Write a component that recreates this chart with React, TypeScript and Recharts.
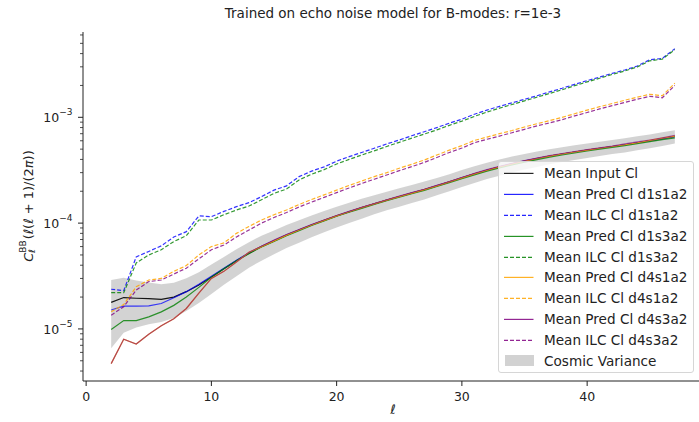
import { ComposedChart, Line, Area, XAxis, YAxis } from "recharts"

const ells = [2, 3, 4, 5, 6, 7, 8, 9, 10, 11, 12, 13, 14, 15, 16, 17, 18, 19, 20, 21, 22, 23, 24, 25, 26, 27, 28, 29, 30, 31, 32, 33, 34, 35, 36, 37, 38, 39, 40, 41, 42, 43, 44, 45, 46, 47]

const meanInput = [1.78e-5, 1.98e-5, 1.95e-5, 1.93e-5, 1.9e-5, 2.0e-5, 2.25e-5, 2.6e-5, 3.1e-5, 3.7e-5, 4.4e-5, 5.2e-5, 6.0e-5, 6.8e-5, 7.7e-5, 8.6e-5, 9.6e-5, 1.06e-4, 1.17e-4, 1.28e-4, 1.4e-4, 1.52e-4, 1.65e-4, 1.78e-4, 1.92e-4, 2.07e-4, 2.25e-4, 2.45e-4, 2.68e-4, 2.92e-4, 3.16e-4, 3.4e-4, 3.63e-4, 3.86e-4, 4.08e-4, 4.3e-4, 4.5e-4, 4.7e-4, 4.9e-4, 5.1e-4, 5.3e-4, 5.5e-4, 5.75e-4, 6.0e-4, 6.3e-4, 6.6e-4]

const predD1s1a2 = [1.51e-5, 1.64e-5, 1.64e-5, 1.65e-5, 1.74e-5, 1.97e-5, 2.25e-5, 2.65e-5, 3.15e-5, 3.75e-5, 4.45e-5, 5.25e-5, 6.05e-5, 6.85e-5, 7.75e-5, 8.65e-5, 9.65e-5, 1.065e-4, 1.175e-4, 1.285e-4, 1.405e-4, 1.525e-4, 1.655e-4, 1.785e-4, 1.93e-4, 2.08e-4, 2.26e-4, 2.46e-4, 2.69e-4, 2.93e-4, 3.17e-4, 3.41e-4, 3.64e-4, 3.87e-4, 4.09e-4, 4.3e-4, 4.5e-4, 4.7e-4, 4.9e-4, 5.1e-4, 5.3e-4, 5.5e-4, 5.75e-4, 6.0e-4, 6.3e-4, 6.55e-4]
const ilcD1s1a2 = [2.37e-5, 2.3e-5, 4.8e-5, 5.4e-5, 6.1e-5, 7.4e-5, 8.3e-5, 1.17e-4, 1.15e-4, 1.29e-4, 1.43e-4, 1.56e-4, 1.78e-4, 2.05e-4, 2.25e-4, 2.75e-4, 3.1e-4, 3.4e-4, 3.85e-4, 4.25e-4, 4.65e-4, 5.1e-4, 5.6e-4, 6.1e-4, 6.7e-4, 7.3e-4, 8.0e-4, 8.8e-4, 9.6e-4, 1.07e-3, 1.17e-3, 1.27e-3, 1.37e-3, 1.48e-3, 1.6e-3, 1.74e-3, 1.88e-3, 2.05e-3, 2.22e-3, 2.4e-3, 2.6e-3, 2.8e-3, 3.05e-3, 3.5e-3, 3.6e-3, 4.45e-3]

const predD1s3a2 = [9.9e-6, 1.2e-5, 1.2e-5, 1.3e-5, 1.45e-5, 1.67e-5, 2.0e-5, 2.47e-5, 3.08e-5, 3.7e-5, 4.4e-5, 5.15e-5, 5.95e-5, 6.7e-5, 7.6e-5, 8.5e-5, 9.5e-5, 1.05e-4, 1.16e-4, 1.27e-4, 1.38e-4, 1.5e-4, 1.63e-4, 1.76e-4, 1.9e-4, 2.04e-4, 2.22e-4, 2.41e-4, 2.63e-4, 2.86e-4, 3.1e-4, 3.33e-4, 3.55e-4, 3.77e-4, 3.98e-4, 4.2e-4, 4.4e-4, 4.6e-4, 4.8e-4, 5.0e-4, 5.2e-4, 5.4e-4, 5.65e-4, 5.9e-4, 6.15e-4, 6.4e-4]
const ilcD1s3a2 = [2.2e-5, 2.2e-5, 4.2e-5, 5.0e-5, 5.6e-5, 6.7e-5, 7.6e-5, 1.07e-4, 1.07e-4, 1.2e-4, 1.33e-4, 1.45e-4, 1.66e-4, 1.91e-4, 2.1e-4, 2.56e-4, 2.9e-4, 3.2e-4, 3.62e-4, 4.0e-4, 4.4e-4, 4.82e-4, 5.3e-4, 5.8e-4, 6.35e-4, 6.95e-4, 7.6e-4, 8.4e-4, 9.2e-4, 1.02e-3, 1.12e-3, 1.22e-3, 1.32e-3, 1.43e-3, 1.55e-3, 1.68e-3, 1.82e-3, 1.99e-3, 2.16e-3, 2.34e-3, 2.54e-3, 2.74e-3, 2.99e-3, 3.42e-3, 3.55e-3, 4.35e-3]

const predD4s1a2 = [4.7e-6, 8.0e-6, 7.2e-6, 8.9e-6, 1.07e-5, 1.25e-5, 1.56e-5, 2.18e-5, 3.0e-5, 3.5e-5, 4.3e-5, 5.3e-5, 6.0e-5, 6.8e-5, 7.7e-5, 8.6e-5, 9.6e-5, 1.06e-4, 1.17e-4, 1.28e-4, 1.4e-4, 1.52e-4, 1.65e-4, 1.78e-4, 1.92e-4, 2.07e-4, 2.25e-4, 2.45e-4, 2.68e-4, 2.92e-4, 3.16e-4, 3.4e-4, 3.63e-4, 3.86e-4, 4.08e-4, 4.3e-4, 4.5e-4, 4.7e-4, 4.9e-4, 5.1e-4, 5.3e-4, 5.5e-4, 5.75e-4, 6.05e-4, 6.35e-4, 6.65e-4]
const ilcD4s1a2 = [1.45e-5, 1.7e-5, 2.5e-5, 2.9e-5, 3.0e-5, 3.5e-5, 3.97e-5, 5.0e-5, 6.0e-5, 6.5e-5, 8.0e-5, 9.3e-5, 1.07e-4, 1.2e-4, 1.33e-4, 1.5e-4, 1.67e-4, 1.85e-4, 2.05e-4, 2.27e-4, 2.5e-4, 2.75e-4, 3.0e-4, 3.3e-4, 3.6e-4, 3.95e-4, 4.4e-4, 4.9e-4, 5.4e-4, 6.05e-4, 6.5e-4, 7.0e-4, 7.5e-4, 8.1e-4, 8.7e-4, 9.3e-4, 1.0e-3, 1.08e-3, 1.17e-3, 1.26e-3, 1.35e-3, 1.45e-3, 1.55e-3, 1.65e-3, 1.6e-3, 2.1e-3]

const predD4s3a2 = [4.7e-6, 8.0e-6, 7.2e-6, 8.9e-6, 1.07e-5, 1.25e-5, 1.56e-5, 2.18e-5, 3.0e-5, 3.5e-5, 4.3e-5, 5.3e-5, 6.05e-5, 6.9e-5, 7.8e-5, 8.7e-5, 9.7e-5, 1.07e-4, 1.18e-4, 1.29e-4, 1.41e-4, 1.53e-4, 1.66e-4, 1.8e-4, 1.94e-4, 2.09e-4, 2.27e-4, 2.47e-4, 2.7e-4, 2.95e-4, 3.2e-4, 3.44e-4, 3.67e-4, 3.9e-4, 4.12e-4, 4.35e-4, 4.55e-4, 4.75e-4, 4.95e-4, 5.15e-4, 5.35e-4, 5.6e-4, 5.85e-4, 6.1e-4, 6.4e-4, 6.75e-4]
const ilcD4s3a2 = [1.35e-5, 1.62e-5, 2.33e-5, 2.8e-5, 2.9e-5, 3.3e-5, 3.75e-5, 4.6e-5, 5.6e-5, 6.2e-5, 7.4e-5, 8.6e-5, 1.0e-4, 1.13e-4, 1.26e-4, 1.42e-4, 1.58e-4, 1.75e-4, 1.94e-4, 2.15e-4, 2.37e-4, 2.6e-4, 2.85e-4, 3.13e-4, 3.42e-4, 3.75e-4, 4.17e-4, 4.65e-4, 5.12e-4, 5.75e-4, 6.2e-4, 6.65e-4, 7.15e-4, 7.7e-4, 8.3e-4, 8.85e-4, 9.5e-4, 1.03e-3, 1.11e-3, 1.2e-3, 1.29e-3, 1.38e-3, 1.48e-3, 1.58e-3, 1.53e-3, 2.0e-3]

// cosmic variance band, lower and upper edge
const cvLow = [6.55e-6, 9.2e-6, 1.03e-5, 1.11e-5, 1.16e-5, 1.27e-5, 1.48e-5, 1.76e-5, 2.14e-5, 2.61e-5, 3.15e-5, 3.79e-5, 4.42e-5, 5.07e-5, 5.81e-5, 6.54e-5, 7.37e-5, 8.2e-5, 9.11e-5, 1.0e-4, 1.1e-4, 1.21e-4, 1.32e-4, 1.43e-4, 1.55e-4, 1.67e-4, 1.83e-4, 2.0e-4, 2.19e-4, 2.4e-4, 2.61e-4, 2.81e-4, 3.01e-4, 3.21e-4, 3.4e-4, 3.6e-4, 3.78e-4, 3.95e-4, 4.13e-4, 4.31e-4, 4.49e-4, 4.66e-4, 4.89e-4, 5.11e-4, 5.37e-4, 5.64e-4]
const cvHigh = [2.9e-5, 3.04e-5, 2.87e-5, 2.75e-5, 2.64e-5, 2.73e-5, 3.02e-5, 3.44e-5, 4.06e-5, 4.79e-5, 5.65e-5, 6.61e-5, 7.58e-5, 8.53e-5, 9.59e-5, 1.066e-4, 1.183e-4, 1.3e-4, 1.43e-4, 1.56e-4, 1.7e-4, 1.83e-4, 1.98e-4, 2.13e-4, 2.29e-4, 2.47e-4, 2.67e-4, 2.9e-4, 3.17e-4, 3.44e-4, 3.71e-4, 3.99e-4, 4.25e-4, 4.51e-4, 4.76e-4, 5.0e-4, 5.22e-4, 5.45e-4, 5.67e-4, 5.89e-4, 6.11e-4, 6.34e-4, 6.61e-4, 6.89e-4, 7.23e-4, 7.56e-4]

const xTicks = [0, 10, 20, 30, 40]
const decades = [1e-6, 1e-5, 1e-4, 1e-3]
const Y_MIN = 3.22e-6
const Y_MAX = 6.4e-3
const yTicks = decades
  .flatMap((d) => [1, 2, 3, 4, 5, 6, 7, 8, 9].map((m) => m * d))
  .filter((v) => v >= Y_MIN && v <= Y_MAX)

const FONT = "'DejaVu Sans', sans-serif"
const INK = "#222"

// opacity: the two d4 prediction curves sit on top of each other at low ell
// and blend into a brownish red there, as in the original
const series = [
  { key: "input", name: "Mean Input Cl", color: "#000000", dashed: false, opacity: 0.9 },
  { key: "predD1s1a2", name: "Mean Pred Cl d1s1a2", color: "#0000ff", dashed: false, opacity: 0.75 },
  { key: "ilcD1s1a2", name: "Mean ILC Cl d1s1a2", color: "#0000ff", dashed: true, opacity: 0.8 },
  { key: "predD1s3a2", name: "Mean Pred Cl d1s3a2", color: "#008000", dashed: false, opacity: 0.8 },
  { key: "ilcD1s3a2", name: "Mean ILC Cl d1s3a2", color: "#008000", dashed: true, opacity: 0.8 },
  { key: "predD4s1a2", name: "Mean Pred Cl d4s1a2", color: "#ffa500", dashed: false, opacity: 0.95 },
  { key: "ilcD4s1a2", name: "Mean ILC Cl d4s1a2", color: "#ffa500", dashed: true, opacity: 0.85 },
  { key: "predD4s3a2", name: "Mean Pred Cl d4s3a2", color: "#800080", dashed: false, opacity: 0.6 },
  { key: "ilcD4s3a2", name: "Mean ILC Cl d4s3a2", color: "#800080", dashed: true, opacity: 0.8 },
]

const data = ells.map((ell, i) => ({
  ell,
  input: meanInput[i],
  predD1s1a2: predD1s1a2[i],
  ilcD1s1a2: ilcD1s1a2[i],
  predD1s3a2: predD1s3a2[i],
  ilcD1s3a2: ilcD1s3a2[i],
  predD4s1a2: predD4s1a2[i],
  ilcD4s1a2: ilcD4s1a2[i],
  predD4s3a2: predD4s3a2[i],
  ilcD4s3a2: ilcD4s3a2[i],
  cv: [cvLow[i], cvHigh[i]],
}))

function YTick(props: any) {
  const { x, y, payload } = props
  const v = payload.value
  const exp = Math.round(Math.log10(v))
  const major = Math.abs(v / Math.pow(10, exp) - 1) < 1e-6
  return (
    <g>
      <line x1={x} x2={x - (major ? 5 : 3)} y1={y} y2={y} stroke={INK} strokeWidth={major ? 1 : 0.8} />
      {major && (
        <text x={x - 10.5} y={y + 5} textAnchor="end" fontSize={12.5} fontFamily={FONT} fill={INK}>
          10
          <tspan dy={-7} fontSize={9}>
            {"\u2212" + -exp}
          </tspan>
        </text>
      )}
    </g>
  )
}

function XTick(props: any) {
  const { x, y, payload } = props
  return (
    <g>
      <line x1={x} x2={x} y1={y} y2={y + 5} stroke={INK} strokeWidth={1} />
      <text x={x} y={y + 20} textAnchor="middle" fontSize={12.5} fontFamily={FONT} fill={INK}>
        {payload.value}
      </text>
    </g>
  )
}

function LegendBox() {
  const rowTop = 1.3
  const rowH = 20.8
  return (
    <div
      style={{
        position: "absolute",
        left: 498,
        top: 161,
        width: 196,
        height: 212,
        boxSizing: "border-box",
        border: "1px solid #d6d6d6",
        borderRadius: 3,
        background: "rgba(255,255,255,0.8)",
        fontFamily: FONT,
        fontSize: 13.6,
        color: INK,
      }}
    >
      {series.map((s, i) => (
        <div key={s.key} style={{ position: "absolute", left: 0, top: rowTop + i * rowH, height: rowH, width: "100%" }}>
          <svg width={40} height={rowH} style={{ position: "absolute", left: 0, top: 0 }}>
            <line
              x1={5}
              x2={34.5}
              y1={rowH / 2}
              y2={rowH / 2}
              stroke={s.color}
              strokeWidth={1.2}
              strokeOpacity={0.85}
              strokeDasharray={s.dashed ? "4 2" : undefined}
            />
          </svg>
          <span style={{ position: "absolute", left: 45, top: 0, lineHeight: rowH + "px", whiteSpace: "nowrap" }}>{s.name}</span>
        </div>
      ))}
      <div style={{ position: "absolute", left: 0, top: rowTop + 9 * rowH, height: rowH, width: "100%" }}>
        <div style={{ position: "absolute", left: 5.5, top: 4.5, width: 29, height: 11, background: "#d2d2d2" }} />
        <span style={{ position: "absolute", left: 45, top: 0, lineHeight: rowH + "px", whiteSpace: "nowrap" }}>Cosmic Variance</span>
      </div>
    </div>
  )
}

export default function App() {
  return (
    <div
      style={{
        position: "absolute",
        left: 0,
        top: 0,
        width: 699,
        height: 422,
        overflow: "hidden",
        background: "#fff",
        fontFamily: FONT,
      }}
    >
      <ComposedChart width={704} height={422} data={data} margin={{ top: 32, right: 1, bottom: 0, left: 0 }}>
        <XAxis
          dataKey="ell"
          type="number"
          domain={[-0.25, 49.25]}
          ticks={xTicks}
          interval={0}
          allowDataOverflow
          tick={<XTick />}
          tickLine={false}
          tickSize={0}
          tickMargin={0}
          axisLine={{ stroke: INK, strokeWidth: 1 }}
          height={41}
        />
        <XAxis
          xAxisId="top"
          dataKey="ell"
          type="number"
          domain={[-0.25, 49.25]}
          orientation="top"
          tick={false}
          tickLine={false}
          axisLine={{ stroke: INK, strokeWidth: 1 }}
          height={0}
        />
        <YAxis
          type="number"
          scale="log"
          domain={[Y_MIN, Y_MAX]}
          allowDataOverflow
          ticks={yTicks}
          interval={0}
          tick={<YTick />}
          tickLine={false}
          tickSize={0}
          tickMargin={0}
          axisLine={{ stroke: INK, strokeWidth: 1 }}
          width={83}
        />
        {series.map((s) => (
          <Line
            key={s.key}
            type="linear"
            dataKey={s.key}
            name={s.name}
            stroke={s.color}
            strokeWidth={1.2}
            strokeOpacity={s.opacity}
            strokeDasharray={s.dashed ? "4 2" : undefined}
            dot={false}
            activeDot={false}
            isAnimationActive={false}
          />
        ))}
        <Area
          type="linear"
          dataKey="cv"
          name="Cosmic Variance"
          stroke="none"
          fill="#808080"
          fillOpacity={0.35}
          isAnimationActive={false}
        />
      </ComposedChart>

      <div
        style={{
          position: "absolute",
          left: 393,
          top: 5,
          transform: "translateX(-50%)",
          fontSize: 13.5,
          color: INK,
          whiteSpace: "nowrap",
        }}
      >
        Trained on echo noise model for B-modes: r=1e-3
      </div>

      <div style={{ position: "absolute", left: 393, top: 402, transform: "translateX(-50%)", fontSize: 13, color: INK }}>
        <i>ℓ</i>
      </div>

      <div
        style={{
          position: "absolute",
          left: 28,
          top: 206,
          transform: "translate(-50%, -50%) rotate(-90deg)",
          fontSize: 13,
          color: INK,
          whiteSpace: "nowrap",
          display: "flex",
          alignItems: "center",
        }}
      >
        <i>C</i>
        <span style={{ display: "inline-flex", flexDirection: "column", fontSize: 9, lineHeight: "9px", marginRight: 1 }}>
          <span>BB</span>
          <i>ℓ</i>
        </span>
        <span>
          (<i>ℓ</i>(<i>ℓ</i> + 1)/(2<i>π</i>))
        </span>
      </div>

      <LegendBox />
    </div>
  )
}
